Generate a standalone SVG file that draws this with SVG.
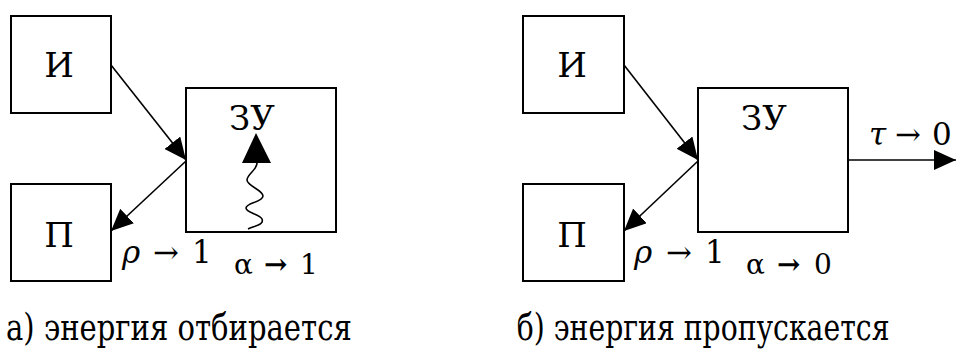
<svg xmlns="http://www.w3.org/2000/svg" width="956" height="358" viewBox="0 0 956 358">
<style>
.box{fill:#fff;stroke:#000;stroke-width:2}
.ln{fill:none;stroke:#000;stroke-width:1.6}
text{font-family:"DejaVu Serif",serif;fill:#000}
.lbl{font-size:34px;text-anchor:middle}
.math{font-size:31px}
.sym{font-size:28px}
.it{font-style:italic}
.cap{font-size:38px}
</style>
<defs>
<marker id="ah" markerUnits="userSpaceOnUse" markerWidth="24" markerHeight="22" refX="22" refY="10" orient="auto">
<path d="M0,0 L22,10 L0,20 z" fill="#000"/>
</marker>
</defs>
<g id="panel-a">
<g id="a-I"><rect class="box" x="11" y="16" width="100" height="97"/><text class="lbl" x="59" y="77">И</text></g>
<g id="a-P"><rect class="box" x="11" y="184" width="100" height="97"/><text class="lbl" x="59" y="247">П</text></g>
<g id="a-ZU"><rect class="box" x="186" y="88" width="150" height="144"/><text class="lbl" x="252" y="130">ЗУ</text></g>
<g id="a-connectors">
<line class="ln" x1="111" y1="65" x2="186" y2="160" marker-end="url(#ah)"/>
<line class="ln" x1="186" y1="161" x2="111" y2="231" marker-end="url(#ah)"/>
<path class="ln" d="M248,229 C258,225 264,224 262,219 C260,214 246,213 246,208 C246,203 263,202 263,196 C263,190 247,186 247,180 C247,174 257,170 257,163"/>
<path d="M256,133 L271,163 L242,163 z" fill="#000"/>
</g>
<text class="math" y="263"><tspan class="it" x="122">ρ</tspan><tspan x="153">→</tspan><tspan x="192">1</tspan></text>
<text class="sym" y="274"><tspan x="234">α</tspan><tspan x="264" font-weight="bold">→</tspan><tspan x="300">1</tspan></text>
<g transform="scale(0.75,1)"><text class="cap" x="8" y="340" textLength="461" lengthAdjust="spacingAndGlyphs">а) энергия отбирается</text></g>
</g>
<g id="panel-b">
<g id="b-I"><rect class="box" x="523" y="16" width="101" height="97"/><text class="lbl" x="572" y="77">И</text></g>
<g id="b-P"><rect class="box" x="523" y="184" width="101" height="97"/><text class="lbl" x="572" y="247">П</text></g>
<g id="b-ZU"><rect class="box" x="698" y="88" width="150" height="144"/><text class="lbl" x="764" y="130">ЗУ</text></g>
<g id="b-connectors">
<line class="ln" x1="624" y1="65" x2="698" y2="160" marker-end="url(#ah)"/>
<line class="ln" x1="698" y1="161" x2="624" y2="231" marker-end="url(#ah)"/>
<line class="ln" x1="848" y1="160" x2="956" y2="160" marker-end="url(#ah)"/>
</g>
<text class="math" y="263"><tspan class="it" x="634">ρ</tspan><tspan x="666">→</tspan><tspan x="705">1</tspan></text>
<text class="sym" y="274"><tspan x="746">α</tspan><tspan x="777" font-weight="bold">→</tspan><tspan x="814">0</tspan></text>
<text class="math" y="145"><tspan class="it" x="869">τ</tspan><tspan x="895">→</tspan><tspan x="932">0</tspan></text>
<g transform="scale(0.75,1)"><text class="cap" x="689" y="340" textLength="497" lengthAdjust="spacingAndGlyphs">б) энергия пропускается</text></g>
</g>
</svg>
